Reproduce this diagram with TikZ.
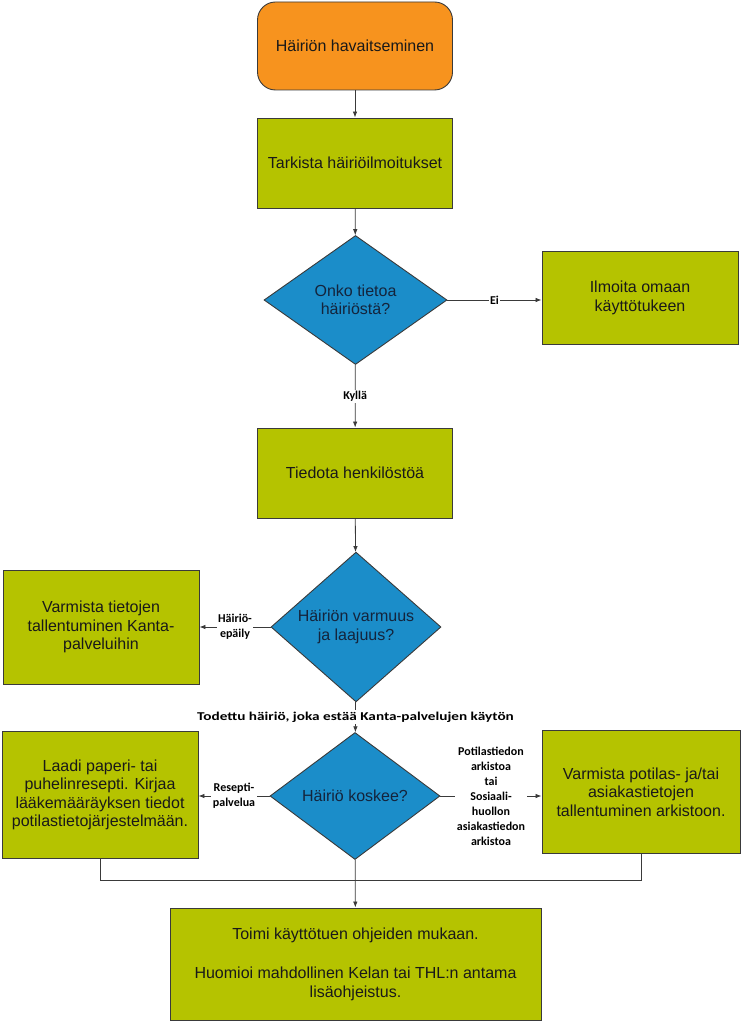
\documentclass[tikz,border=0pt]{standalone}
\usepackage{fontspec}
\setmainfont{Liberation Sans}
\newfontfamily\lblfont{Carlito}
\newfontfamily\widelblfont[FakeStretch=1.27]{Carlito}
\usetikzlibrary{shapes.geometric}
\usetikzlibrary{arrows.meta}
\definecolor{hOrange}{HTML}{F7931E}
\definecolor{hGreen}{HTML}{B5C300}
\definecolor{hBlue}{HTML}{1B8DC9}
\definecolor{hLine}{HTML}{3A3A3A}
\definecolor{hNavy}{HTML}{14243C}
\tikzset{
  boxtext/.style={font=\fontsize{16}{18.4}\selectfont, align=center},
  box/.style={draw=hLine, line width=0.9pt, fill=hGreen, boxtext, text=black!90},
  startbox/.style={box, fill=hOrange, rounded corners=18pt},
  decision/.style={diamond, draw=hLine, line width=0.9pt, fill=hBlue, boxtext, text=hNavy, inner sep=0pt},
  lbl/.style={font=\lblfont\bfseries\fontsize{12}{15}\selectfont, align=center, fill=white, inner sep=1.5pt},
  widelbl/.style={lbl, font=\widelblfont\bfseries\fontsize{12}{15}\selectfont},
  flow/.style={draw=hLine, line width=0.8pt, -{Latex[length=6pt,width=4.5pt]}},
  plain/.style={draw=hLine, line width=0.8pt}
}
\begin{document}
\begin{tikzpicture}[x=1pt, y=-1pt]
  \useasboundingbox (0,0) rectangle (742,1024);
  \node [startbox, minimum width=195pt, minimum height=88pt] (start) at (355,46) {Häiriön havaitseminen};
  \node [box, minimum width=195pt, minimum height=90pt] (tark) at (355,163) {Tarkista häiriöilmoitukset};
  \node [decision, minimum width=183pt, minimum height=129pt] (d1) at (355.5,300) {Onko tietoa\\häiriöstä?};
  \node [box, minimum width=196pt, minimum height=93pt] (ilm) at (640,298) {Ilmoita omaan\\käyttötukeen};
  \node [box, minimum width=195pt, minimum height=90pt] (tied) at (355,473) {Tiedota henkilöstöä};
  \node [decision, minimum width=170pt, minimum height=127pt] (d2) at (356,627) {Häiriön varmuus\\ja laajuus?};
  \node [box, minimum width=196pt, minimum height=114pt] (kanta) at (101,627) {Varmista tietojen\\tallentuminen Kanta-\\palveluihin};
  \node [decision, minimum width=170pt, minimum height=127pt] (d3) at (355,796) {Häiriö koskee?};
  \node [box, minimum width=196pt, minimum height=127pt] (laadi) at (100,795) {Laadi paperi- tai\\puhelinresepti. Kirjaa\\lääkemääräyksen tiedot\\potilastietojärjestelmään.};
  \node [box, minimum width=198pt, minimum height=123pt] (arkisto) at (641,792) {Varmista potilas- ja/tai\\asiakastietojen\\tallentuminen\ arkistoon.};
  \node [box, minimum width=371pt, minimum height=112pt] (toimi) at (355.5,964) {Toimi käyttötuen ohjeiden mukaan.\\[21pt]Huomioi mahdollinen Kelan tai THL:n antama\\lisäohjeistus.};
  \coordinate (join) at (355,880);
  \draw [flow] (start) -- (tark);
  \draw [flow] (tark) -- (d1);
  \draw [flow] (d1.east) -- (d1.east -| ilm.west) node [lbl, midway] {Ei};
  \draw [flow] (d1) -- (tied) node [lbl, midway] {Kyllä};
  \draw [flow] (tied) -- (d2);
  \draw [flow] (d2.west) -- (d2.west -| kanta.east) node [lbl, midway] {Häiriö-\\epäily};
  \draw [flow] (d2) -- (d3) node [widelbl, midway] {Todettu häiriö, joka estää Kanta-palvelujen käytön};
  \draw [flow] (d3.west) -- (d3.west -| laadi.east) node [lbl, midway] {Resepti-\\palvelua};
  \draw [flow] (d3.east) -- (d3.east -| arkisto.west) node [lbl, midway] {Potilastiedon\\arkistoa\\tai\\Sosiaali-\\huollon\\asiakastiedon\\arkistoa};
  \draw [plain] (laadi.south) |- (join) -| (arkisto.south);
  \draw [flow] (d3) -- (toimi);
\end{tikzpicture}
\end{document}
